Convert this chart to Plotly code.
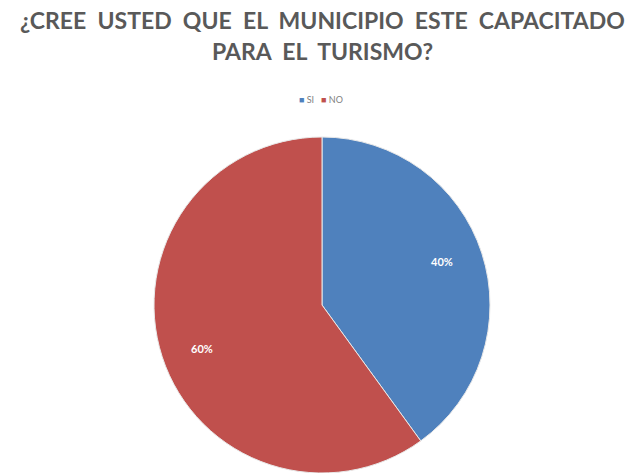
import math
import plotly.graph_objects as go

# Survey answers
labels = ["SI", "NO"]
values = [40, 60]
colors = ["#4F81BD", "#C0504D"]

title_lines = [
    "¿CREE\u00a0\u00a0USTED\u00a0\u00a0QUE\u00a0\u00a0EL\u00a0\u00a0MUNICIPIO\u00a0\u00a0ESTE\u00a0\u00a0CAPACITADO",
    "PARA\u00a0\u00a0EL\u00a0\u00a0TURISMO?",
]

W, H = 639, 473
M_L, M_R, M_T, M_B = 5, 0, 137, 0
plot_w = W - M_L - M_R
plot_h = H - M_T - M_B


def py(pixel_from_top):
    """Convert a pixel row (from the top of the page) to paper y."""
    return (H - M_B - pixel_from_top) / plot_h


fig = go.Figure(
    go.Pie(
        labels=labels,
        values=values,
        sort=False,
        direction="clockwise",
        rotation=0,
        marker=dict(colors=colors, line=dict(color="#E8E8E8", width=1)),
        textinfo="none",
        hoverinfo="label+percent",
        showlegend=False,
    )
)

# Percentage labels placed along each slice's bisector, towards the rim
total = sum(values)
radius = min(plot_w, plot_h) / 2
cx, cy = M_L + plot_w / 2, M_T + plot_h / 2
cum = 0
for v in values:
    mid = (cum + v / 2) / total * 2 * math.pi
    cum += v
    px = cx + 0.83 * radius * math.sin(mid)
    pyx = cy - 0.83 * radius * math.cos(mid)
    fig.add_annotation(
        x=(px - M_L) / plot_w, y=py(pyx), xref="paper", yref="paper",
        text=f"{round(100 * v / total)}%", showarrow=False,
        font=dict(family="Lato", size=11, color="white", weight="bold"),
    )

# Title, two centred lines
for text, row in zip(title_lines, [20, 51]):
    fig.add_annotation(
        x=0.5, y=py(row), xref="paper", yref="paper", xanchor="center", yanchor="middle",
        text=text, showarrow=False,
        font=dict(family="Lato", size=23, color="#595959", weight="bold"),
    )

# Compact legend with small square keys
legend_text = "\u00a0\u00a0\u00a0".join(
    f"<span style='color:{c}'>■</span><span style='color:#7F7F7F'>\u00a0{l}</span>"
    for l, c in zip(labels, colors)
)
fig.add_annotation(
    x=(321 - M_L) / plot_w, y=py(100), xref="paper", yref="paper",
    xanchor="center", yanchor="middle", text=legend_text, showarrow=False,
    font=dict(family="Lato", size=9, color="#7F7F7F"),
)

fig.update_layout(
    width=W,
    height=H,
    paper_bgcolor="white",
    plot_bgcolor="white",
    margin=dict(l=M_L, r=M_R, t=M_T, b=M_B),
)

fig.write_html("out.html")
